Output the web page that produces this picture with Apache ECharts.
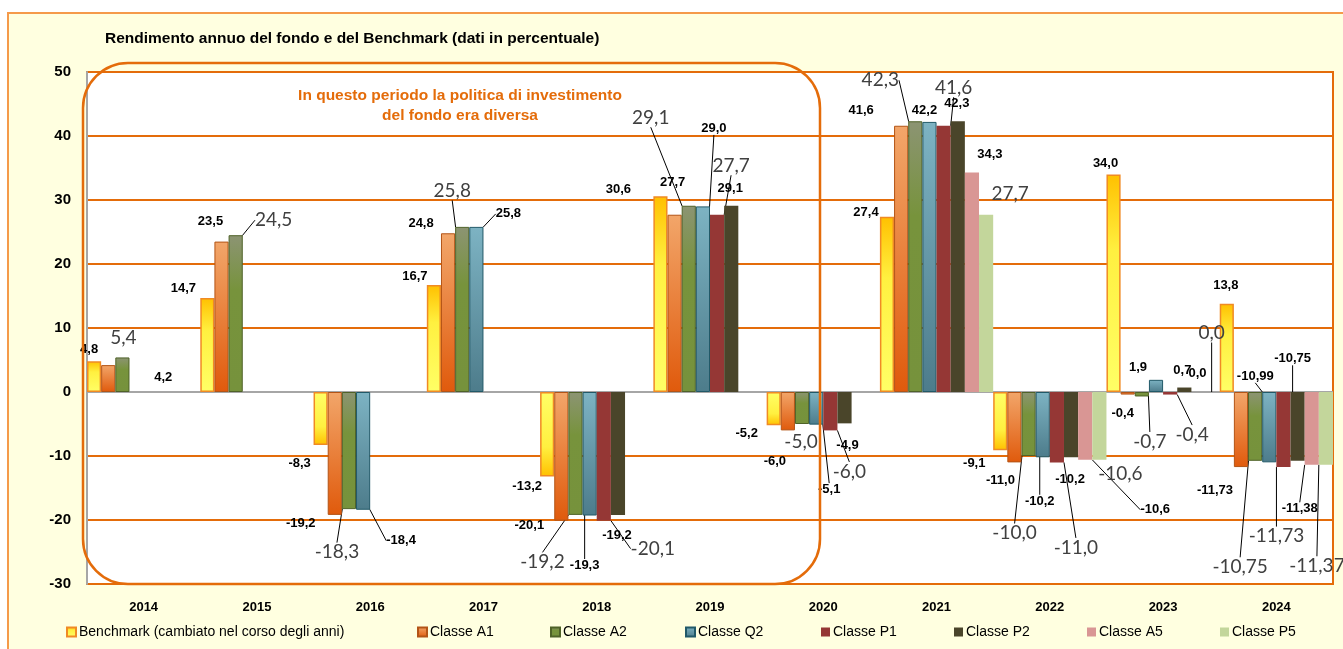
<!DOCTYPE html>
<html>
<head>
<meta charset="utf-8">
<script src="https://cdn.jsdelivr.net/npm/echarts@6/dist/echarts.min.js"></script>
<style>
html, body { margin: 0; padding: 0; background: #fff; }
#chart { width: 1343px; height: 649px; }
</style>
</head>
<body>
<div id="chart"></div>
<script>
// dati (rendimenti annui in %)
var years = ['2014', '2015', '2016', '2017', '2018', '2019', '2020', '2021', '2022', '2023', '2024'];
var benchmark = [4.8, 14.7, -8.3, 16.7, -13.2, 30.6, -5.2, 27.4, -9.1, 34.0, 13.8];
var classeA1 = [4.2, 23.5, -19.2, 24.8, -20.1, 27.7, -6.0, 41.6, -11.0, -0.4, -11.73];
var classeA2 = [5.4, 24.5, -18.3, 25.8, -19.2, 29.1, -5.0, 42.3, -10.0, -0.7, -10.75];
var classeQ2 = [null, null, -18.4, 25.8, -19.3, 29.0, -5.1, 42.2, -10.2, 1.9, -10.99];
var classeP1 = [null, null, null, null, -20.1, 27.7, -6.0, 41.6, -11.0, -0.4, -11.73];
var classeP2 = [null, null, null, null, -19.2, 29.1, -4.9, 42.3, -10.2, 0.7, -10.75];
var classeA5 = [null, null, null, null, null, null, null, 34.3, -10.6, 0.0, -11.38];
var classeP5 = [null, null, null, null, null, null, null, 27.7, -10.6, 0.0, -11.37];
var labelDecimals = [1, 1, 1, 1, 1, 1, 1, 1, 1, 1, 2];   // per anno (classi)
var benchmarkDecimals = 1;

var seriesNames = ['Benchmark (cambiato nel corso degli anni)', 'Classe A1', 'Classe A2', 'Classe Q2',
  'Classe P1', 'Classe P2', 'Classe A5', 'Classe P5'];
var seriesData = [benchmark, classeA1, classeA2, classeQ2, classeP1, classeP2, classeA5, classeP5];

// etichette: b = grassetto, r = normale, l = con linea guida
var labelKind = [
  ['b', 'b', 'b', 'b', 'b', 'b', 'b', 'b', 'b', 'b', 'b'],
  ['b', 'b', 'b', 'b', 'b', 'b', 'b', 'b', 'b', 'b', 'b'],
  ['r', 'rl', 'rl', 'rl', 'rl', 'rl', 'r', 'rl', 'rl', 'rl', 'rl'],
  ['', '', 'bl', 'bl', 'bl', 'bl', 'bl', 'b', 'bl', 'b', 'bl'],
  ['', '', '', '', 'rl', 'rl', 'rl', 'rl', 'rl', 'rl', 'rl'],
  ['', '', '', '', 'b', 'b', 'b', 'b', 'b', 'b', 'bl'],
  ['', '', '', '', '', '', '', 'b', 'bl', 'b', 'bl'],
  ['', '', '', '', '', '', '', 'r', 'r', 'rl', 'rl']
];
// spostamento etichetta rispetto all'estremo della barra
var labelOffset = [
  [[-5, -12], [-24, -9], [-21, 18], [-19, -9], [-20, 10], [-42, -7], [-27, 8], [-21, -4], [-26, 13], [-8, -11], [-1, -18]],
  [[55, 12], [-11, -20], [-34, 9], [-27, -10], [-32, 5], [-2, -32], [-13, 31], [-40, -15], [-14, 18], [-5, 19], [-26, 23]],
  [[1, -20], [38, -15], [-12, 43], [-10, -36], [-33, 47], [-38, -88], [-1, 18], [-35, -41], [-14, 77], [8, 45], [-15, 106]],
  [null, null, [38, 31], [32, -13], [-5, 50], [11, -78], [13, 65], [-5, -11], [-3, 44], [-18, -12], [-14, -86]],
  [null, null, null, null, [49, 28], [14, -49], [19, 41], [10, -38], [19, 85], [22, 40], [-7, 69]],
  [null, null, null, null, [-1, 21], [-1, -17], [3, 22], [-1, -18], [-1, 22], [-2, -17], [-5, -102]],
  [null, null, null, null, null, null, null, [18, -18], [70, 50], [-1, -19], [-12, 44]],
  [null, null, null, null, null, null, null, [24, -21], [21, 14], [-1, -59], [-9, 101]]
];
// posizione orizzontale di ogni voce di legenda
var legendLeft = [66, 417, 550, 685, 821, 954, 1087, 1220];

function vgrad(stops) {
  return new echarts.graphic.LinearGradient(0, 0, 0, 1, stops.map(function (s) {
    return { offset: s[0], color: s[1] };
  }));
}
var yellowPos = vgrad([[0, '#FFC000'], [0.35, '#FFF040'], [1, '#FFFF66']]);
var yellowNeg = vgrad([[0, '#FFFF66'], [0.65, '#FFF040'], [1, '#FFC000']]);
var styles = [
  { color: yellowPos, borderColor: '#F08A24', borderWidth: 1.5 },
  { color: vgrad([[0, '#F2A66A'], [1, '#E05A0C']]), borderColor: '#B35416', borderWidth: 1 },
  { color: vgrad([[0, '#8C9473'], [0.35, '#77933C'], [1, '#76923C']]), borderColor: '#4F6228', borderWidth: 1 },
  { color: vgrad([[0, '#7DB3C3'], [1, '#4D7C8B']]), borderColor: '#215968', borderWidth: 1 },
  { color: '#953735' },
  { color: '#4A452A' },
  { color: '#D99694' },
  { color: '#C3D69B' }
];

var boldLabel = { fontFamily: 'Liberation Sans', fontWeight: 'bold', fontSize: 13, color: '#000' };
var regLabel = { fontFamily: 'Lato', fontWeight: 'normal', fontSize: 19, color: '#404040' };

var series = seriesData.map(function (vals, s) {
  return {
    name: seriesNames[s],
    type: 'bar',
    barGap: '0%',
    barCategoryGap: '0%',
    itemStyle: styles[s],
    label: {
      show: true,
      position: 'top',
      formatter: function (p) {
        var d = s === 0 ? benchmarkDecimals : labelDecimals[p.dataIndex];
        return p.value.toFixed(d).replace('.', ',');
      }
    },
    labelLine: { show: false, lineStyle: { color: '#000', width: 1 } },
    labelLayout: function (p) {
      var v = seriesData[s][p.dataIndex];
      var off = labelOffset[s][p.dataIndex];
      if (v == null || !off) return {};
      var r = p.rect;
      var top = Math.min(r.y, r.y + r.height);
      var bottom = Math.max(r.y, r.y + r.height);
      return {
        x: r.x + r.width / 2 + off[0],
        y: (v >= 0 ? top : bottom) + off[1],
        align: 'center',
        verticalAlign: 'middle'
      };
    },
    data: vals.map(function (v, i) {
      if (v == null) return null;
      var kind = labelKind[s][i];
      var item = {
        value: v,
        label: Object.assign({}, kind.charAt(0) === 'r' ? regLabel : boldLabel),
        labelLine: { show: kind.indexOf('l') > 0 }
      };
      if (s === 0 && v < 0) item.itemStyle = { color: yellowNeg };
      return item;
    })
  };
});

var legends = seriesNames.map(function (name, s) {
  return {
    data: [name],
    left: legendLeft[s],
    top: 625,
    padding: 0,
    itemWidth: 9,
    itemHeight: 9,
    icon: 'rect',
    textStyle: { fontFamily: 'Liberation Sans', fontSize: 14, color: '#000', padding: [0, 0, 0, -2] }
  };
});

var myChart = echarts.init(document.getElementById('chart'));
var option = {
  animation: false,
  backgroundColor: '#fff',
  title: {
    text: 'Rendimento annuo del fondo e del Benchmark (dati in percentuale)',
    left: 100,
    top: 26,
    textStyle: { fontFamily: 'Liberation Sans', fontSize: 15.5, fontWeight: 'bold', color: '#000' }
  },
  legend: legends,
  grid: {
    left: 87,
    right: 10,
    top: 72,
    bottom: 65,
    show: true,
    backgroundColor: '#fff',
    borderColor: '#E46C0A',
    borderWidth: 2
  },
  xAxis: {
    type: 'category',
    data: years,
    axisLine: { show: false, onZero: false },
    axisTick: { show: false },
    axisLabel: { margin: 17, fontFamily: 'Liberation Sans', fontWeight: 'bold', fontSize: 13, color: '#000' }
  },
  yAxis: {
    type: 'value',
    min: -30,
    max: 50,
    interval: 10,
    axisLine: { show: true, lineStyle: { color: '#A6A6A6', width: 2 } },
    axisTick: { show: false },
    axisLabel: { margin: 16, fontFamily: 'Liberation Sans', fontWeight: 'bold', fontSize: 15, color: '#000' },
    splitLine: {
      lineStyle: {
        width: 2,
        color: ['#E46C0A', '#E46C0A', '#E46C0A', '#A6A6A6', '#E46C0A', '#E46C0A', '#E46C0A', '#E46C0A', '#E46C0A']
      }
    }
  },
  graphic: [
    {
      type: 'rect', z: -100,
      shape: { x: 8, y: 13, width: 1400, height: 700 },
      style: { fill: '#FFFFE0', stroke: '#F59A4A', lineWidth: 2 }
    },
    {
      type: 'rect', z: 100,
      shape: { x: 83, y: 63, width: 737, height: 521, r: 45 },
      style: { fill: 'none', stroke: '#E46C0A', lineWidth: 2.5 }
    },
    {
      type: 'text', z: 100,
      x: 460, y: 86,
      style: {
        text: 'In questo periodo la politica di investimento\ndel fondo era diversa',
        align: 'center',
        verticalAlign: 'top',
        lineHeight: 20,
        fill: '#E46C0A',
        fontFamily: 'Liberation Sans',
        fontWeight: 'bold',
        fontSize: 15.5
      }
    }
  ],
  series: series
};
myChart.setOption(option);
</script>
</body>
</html>
